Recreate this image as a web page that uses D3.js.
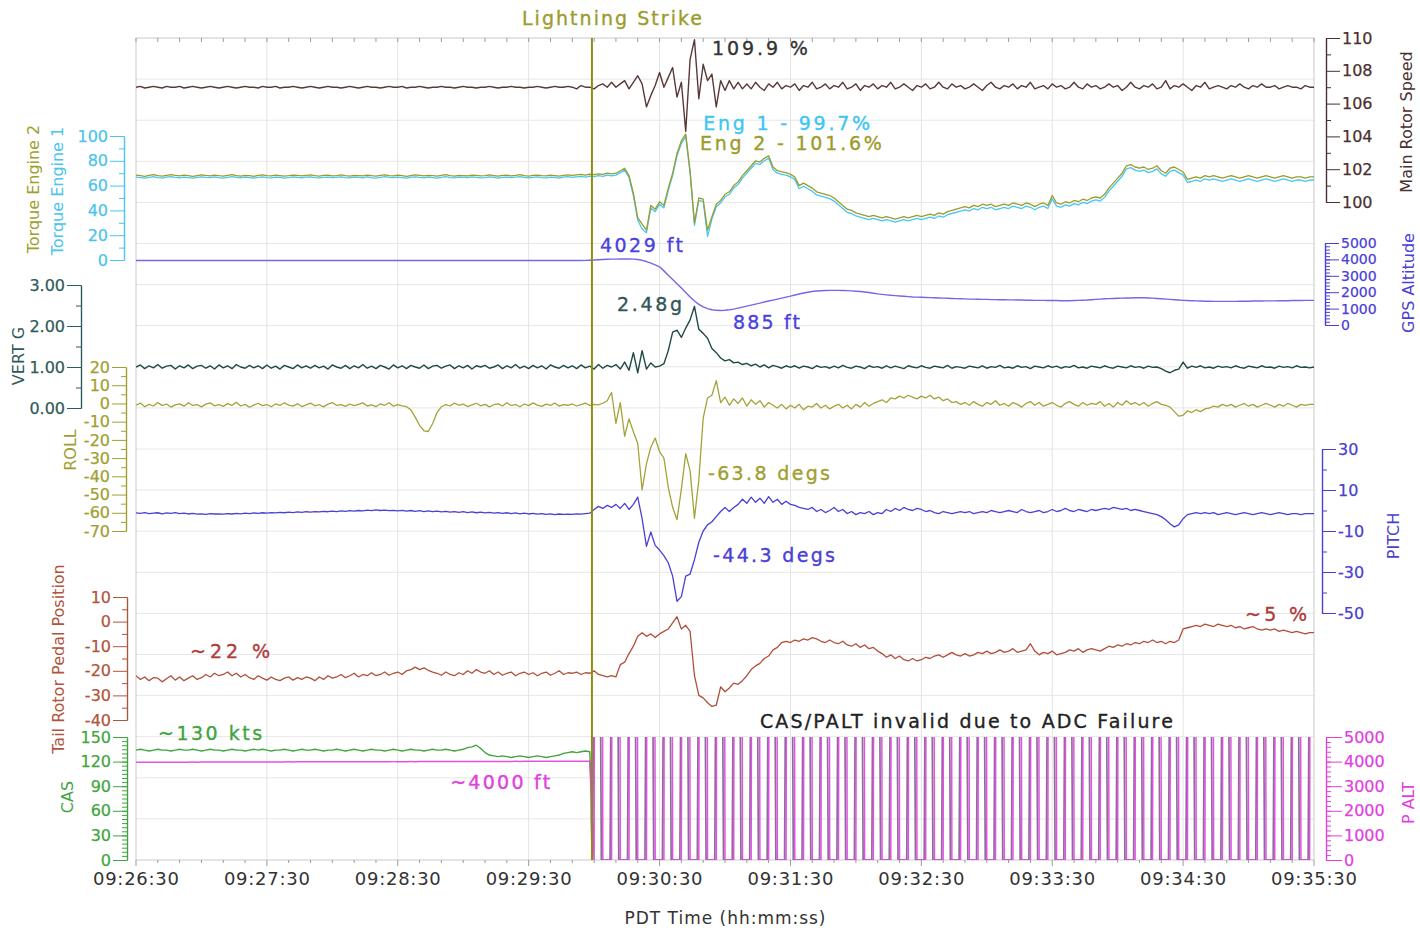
<!DOCTYPE html>
<html>
<head>
<meta charset="utf-8">
<script src="https://cdnjs.cloudflare.com/ajax/libs/d3/7.8.5/d3.min.js"></script>
<style>
  body { margin: 0; background: #fff; }
  svg { display: block; font-family: "DejaVu Sans", Verdana, sans-serif; }
</style>
</head>
<body>
<div id="chart"></div>
<script>
'use strict'
/* global d3 */

// ---- data (one sample every 2 s, starting 09:26:30) ----
const step = 2
const strikeTime = 209
const xTickSeconds = [0, 60, 120, 180, 240, 300, 360, 420, 480, 540]
const xTickLabels = ['09:26:30', '09:27:30', '09:28:30', '09:29:30', '09:30:30',
  '09:31:30', '09:32:30', '09:33:30', '09:34:30', '09:35:30']

const rotorSpeed = [
  107.0,107.05,106.95,107.0,107.05,107.0,106.95,107.05,107.0,107.0,
  107.05,106.95,107.0,107.05,107.0,106.95,107.0,107.05,107.0,106.95,
  107.0,107.05,107.0,106.95,107.0,107.05,107.0,107.0,106.95,107.05,
  107.0,107.0,107.05,106.95,107.0,107.0,107.05,107.0,106.95,107.0,
  107.05,107.0,106.95,107.0,107.05,107.0,107.0,106.95,107.0,107.05,
  107.0,106.95,107.0,107.05,107.0,107.0,106.95,107.0,107.05,107.0,
  107.0,107.05,106.95,107.0,107.0,107.05,107.0,106.95,107.0,107.0,
  107.05,107.0,107.0,106.95,107.0,107.05,107.0,107.0,106.95,107.0,
  107.0,107.05,107.0,106.95,107.0,107.0,107.05,107.0,107.0,106.95,
  107.0,107.0,107.05,107.0,106.95,107.0,107.05,107.0,107.0,107.05,
  107.0,106.9,107.1,107.0,107.0,106.9,107.1,107.2,107.0,107.3,
  107.0,107.2,107.4,106.9,107.3,107.7,107.2,105.8,106.5,107.1,
  107.9,107.0,107.6,108.2,106.4,107.3,104.3,108.7,109.9,106.3,
  108.4,107.4,107.8,105.8,107.4,106.8,107.4,106.9,107.3,106.9,
  107.2,106.9,107.3,107.0,106.8,107.2,107.0,107.3,106.9,107.1,
  107.0,107.2,106.8,107.1,107.0,107.3,106.9,107.0,107.2,106.9,
  107.1,107.0,107.3,106.9,107.0,107.2,106.8,107.1,107.0,107.2,
  106.9,107.1,107.0,107.3,106.9,107.0,107.2,107.0,106.8,107.1,
  107.0,107.2,106.9,107.0,107.3,107.0,106.9,107.2,107.0,107.1,
  106.9,107.0,107.2,107.0,106.8,107.1,107.3,107.0,106.9,107.1,
  107.0,107.2,106.9,107.1,107.0,107.3,106.9,107.0,107.1,106.9,
  107.2,107.0,107.1,106.9,107.0,107.3,107.0,106.9,107.2,107.0,
  107.1,106.9,107.0,107.2,107.0,107.1,106.8,107.0,107.3,107.0,
  106.9,107.1,107.0,107.2,106.9,107.0,107.4,106.9,107.1,107.0,
  107.2,107.0,106.8,107.1,107.0,107.3,106.9,107.0,107.1,107.0,
  106.9,107.1,107.0,107.2,107.0,106.9,107.1,107.0,107.2,107.0,
  107.0,107.1,106.9,107.0,107.1,107.0,107.0,106.9,107.1,107.0,
  107.0]

const torqueEng2 = [
  68.5,68.0,67.5,68.2,68.8,68.0,67.6,68.3,68.9,68.2,
  67.8,68.4,68.0,67.5,68.1,68.7,68.2,67.9,68.5,68.0,
  67.6,68.2,68.8,68.1,67.7,68.3,68.0,67.5,68.2,68.6,
  68.0,67.8,68.4,68.1,67.6,68.0,68.5,68.2,67.8,68.3,
  68.6,68.0,67.7,68.2,68.4,67.9,68.1,68.6,68.0,67.7,
  68.3,68.1,67.8,68.5,68.0,67.6,68.2,68.7,68.1,67.9,
  68.4,68.0,67.5,68.1,68.6,68.2,67.8,68.3,68.0,67.6,
  68.2,68.8,68.0,67.7,68.3,68.1,67.9,68.5,68.2,67.8,
  68.0,68.6,68.1,67.6,68.2,68.4,67.9,68.3,68.8,68.1,
  67.7,68.2,68.5,68.0,67.8,68.4,68.1,67.6,68.3,68.7,
  68.2,68.6,69.0,68.4,69.2,68.8,69.5,69.0,70.0,69.4,
  70.0,72.0,74.0,68.0,54.0,34.0,29.0,24.0,44.0,41.0,
  47.0,44.0,58.0,70.0,86.0,96.0,101.6,72.0,30.0,50.0,
  49.0,24.0,35.0,45.0,48.0,53.0,55.0,60.0,63.0,68.0,
  72.0,76.0,80.0,79.0,82.0,84.0,75.0,72.0,71.0,70.5,
  69.0,67.0,60.0,62.0,60.0,58.0,55.0,54.0,53.0,52.0,
  50.0,47.0,44.0,41.0,40.0,38.0,37.0,36.0,35.0,36.0,
  35.0,34.0,35.0,34.0,33.0,34.0,35.0,34.0,35.0,36.0,
  35.0,36.0,37.0,36.0,38.0,37.0,39.0,40.0,41.0,42.0,
  43.0,42.0,44.0,43.0,45.0,44.0,45.0,43.0,44.0,45.0,
  44.0,46.0,45.0,44.0,46.0,45.0,43.0,45.0,46.0,44.0,
  52.0,46.0,45.0,47.0,46.0,48.0,47.0,49.0,48.0,50.0,
  51.0,50.0,53.0,58.0,62.0,66.0,70.0,76.0,77.0,75.0,
  74.0,75.0,73.0,74.0,76.0,72.0,70.0,74.0,75.0,73.0,
  71.0,65.0,66.0,67.0,66.0,68.0,67.0,68.0,67.0,66.0,
  67.0,68.0,67.0,66.0,67.0,68.0,67.0,66.0,67.0,68.0,
  67.0,66.0,67.0,68.0,67.0,66.0,67.0,67.0,66.0,67.0,
  67.0]

const torqueEng1 = [
  66.8,66.5,66.0,66.7,67.2,66.5,66.1,66.8,67.3,66.6,
  66.3,66.9,66.5,66.0,66.6,67.1,66.7,66.4,67.0,66.5,
  66.1,66.7,67.2,66.6,66.2,66.8,66.5,66.0,66.7,67.0,
  66.5,66.3,66.9,66.6,66.1,66.5,67.0,66.7,66.3,66.8,
  67.0,66.5,66.2,66.7,66.9,66.4,66.6,67.1,66.5,66.2,
  66.8,66.6,66.3,67.0,66.5,66.1,66.7,67.2,66.6,66.4,
  66.9,66.5,66.0,66.6,67.1,66.7,66.3,66.8,66.5,66.1,
  66.7,67.3,66.5,66.2,66.8,66.6,66.4,67.0,66.7,66.3,
  66.5,67.1,66.6,66.1,66.7,66.9,66.4,66.8,67.3,66.6,
  66.2,66.7,67.0,66.5,66.3,66.9,66.6,66.1,66.8,67.2,
  66.7,67.1,67.5,66.9,67.7,67.3,68.0,67.5,68.5,67.9,
  68.5,70.5,72.5,66.5,52.0,32.0,25.0,22.0,42.0,39.0,
  45.0,42.0,56.0,68.0,84.0,94.0,99.7,70.0,28.0,48.0,
  47.0,19.0,33.0,43.0,46.0,51.0,53.0,58.0,61.0,66.0,
  70.0,74.0,78.0,77.0,80.0,82.0,73.0,70.0,69.0,68.5,
  67.0,65.0,57.5,59.5,57.5,55.5,52.5,51.5,50.5,49.5,
  47.5,44.5,41.5,38.5,37.5,35.5,34.5,33.5,32.5,33.5,
  32.5,31.5,32.5,31.5,30.5,31.5,32.5,31.5,32.5,33.5,
  32.5,33.5,34.5,33.5,35.5,34.5,36.5,37.5,38.5,39.5,
  40.5,39.5,41.5,40.5,42.5,41.5,42.5,40.5,41.5,42.5,
  41.5,43.5,42.5,41.5,43.5,42.5,40.5,42.5,43.5,41.5,
  49.5,43.5,42.5,44.5,43.5,45.5,44.5,46.5,45.5,47.5,
  48.5,47.5,50.5,55.5,59.5,63.5,67.5,73.5,74.5,72.5,
  71.5,72.5,70.5,71.5,73.5,69.5,67.5,71.5,72.5,70.5,
  68.5,62.5,63.5,64.5,63.5,65.5,64.5,65.5,64.5,63.5,
  64.5,65.5,64.5,63.5,64.5,65.5,64.5,63.5,64.5,65.5,
  64.5,63.5,64.5,65.5,64.5,63.5,64.5,64.5,63.5,64.5,
  64.5]

const gpsAltitude = [
  3930,3930,3931,3930,3929,3930,3931,3930,3930,3929,
  3930,3931,3930,3930,3929,3930,3930,3931,3930,3930,
  3929,3930,3930,3931,3930,3930,3929,3930,3931,3930,
  3930,3930,3929,3930,3931,3930,3930,3930,3929,3930,
  3931,3930,3930,3929,3930,3930,3931,3930,3930,3929,
  3930,3930,3931,3930,3929,3930,3930,3931,3930,3930,
  3929,3930,3930,3931,3930,3930,3929,3930,3931,3930,
  3930,3929,3930,3930,3931,3930,3930,3929,3930,3930,
  3931,3930,3929,3930,3930,3931,3930,3930,3929,3930,
  3930,3931,3930,3930,3929,3930,3931,3930,3930,3930,
  3930,3930,3935,3940,3950,3960,3975,3990,4005,4015,
  4018,4024,4028,4029,4015,3990,3945,3870,3770,3660,
  3550,3300,3040,2780,2520,2250,1980,1710,1460,1260,
  1100,1000,930,895,885,900,930,970,1030,1090,
  1150,1210,1270,1330,1400,1460,1520,1580,1640,1700,
  1760,1830,1890,1950,2000,2040,2070,2090,2100,2110,
  2110,2110,2105,2095,2080,2060,2040,2010,1980,1940,
  1900,1870,1840,1810,1790,1770,1750,1730,1710,1700,
  1690,1680,1670,1660,1650,1640,1630,1620,1610,1600,
  1590,1580,1580,1570,1560,1560,1550,1550,1540,1540,
  1530,1530,1520,1520,1510,1510,1500,1500,1500,1490,
  1490,1490,1480,1480,1480,1490,1500,1510,1520,1540,
  1560,1580,1600,1610,1620,1630,1640,1650,1650,1660,
  1660,1660,1650,1640,1620,1600,1580,1560,1540,1520,
  1500,1490,1480,1470,1460,1450,1450,1440,1440,1440,
  1440,1440,1440,1450,1450,1450,1460,1460,1460,1470,
  1470,1470,1480,1480,1480,1490,1490,1490,1500,1500,
  1500]

const vertG = [
  1.00,1.05,0.96,1.03,0.98,1.06,0.97,1.02,1.04,0.95,
  1.03,0.98,1.05,0.96,1.02,1.04,0.97,1.03,0.95,1.05,
  0.98,1.03,0.96,1.06,1.00,0.97,1.04,0.98,1.03,0.96,
  1.05,0.97,1.02,0.95,1.04,1.00,0.96,1.05,0.98,1.03,
  0.97,1.04,0.98,1.02,0.95,1.05,1.00,0.97,1.04,0.96,
  1.03,0.98,1.06,0.97,1.02,0.96,1.04,1.00,0.95,1.05,
  0.98,1.03,0.96,1.04,1.00,0.97,1.05,0.96,1.02,1.04,
  0.97,1.02,1.05,0.96,1.03,0.98,1.04,0.95,1.03,1.00,
  1.04,0.97,1.00,1.05,0.96,1.03,0.98,1.06,0.97,1.02,
  0.96,1.04,0.98,1.03,0.95,1.05,1.00,0.97,1.04,0.98,
  1.03,0.96,1.05,0.98,1.02,0.95,1.06,0.97,1.04,1.00,
  1.06,0.95,1.12,0.92,1.35,0.86,1.40,0.95,1.10,1.00,
  1.02,1.08,1.40,1.85,1.90,1.72,1.95,2.15,2.48,1.92,
  1.82,1.70,1.45,1.35,1.22,1.15,1.18,1.10,1.12,1.06,
  1.09,1.03,1.07,1.00,1.05,0.98,1.04,1.01,0.97,1.03,
  0.99,1.03,0.97,1.02,1.00,0.96,1.03,0.99,1.01,0.97,
  1.02,0.98,1.04,0.99,0.97,1.02,1.00,0.96,1.03,0.99,
  1.01,0.97,1.03,0.98,1.02,0.99,0.96,1.03,1.00,0.98,
  1.03,0.99,0.97,1.02,1.00,0.98,1.04,0.97,1.01,0.99,
  0.97,1.02,1.00,0.98,1.03,0.97,1.01,0.99,1.04,0.98,
  1.00,0.97,1.03,0.99,1.01,0.96,1.02,1.00,0.98,1.03,
  0.99,1.02,0.97,1.01,0.99,1.04,0.98,1.00,0.97,1.02,
  1.00,0.98,1.03,0.99,0.97,1.02,1.00,0.98,1.03,0.99,
  1.01,0.97,1.02,0.99,1.00,0.96,0.90,0.86,0.92,0.95,
  1.12,0.97,1.02,0.99,1.03,0.98,1.00,0.97,1.02,0.99,
  1.01,0.98,1.03,0.99,0.97,1.02,1.00,0.98,1.03,0.99,
  1.00,0.97,1.02,0.99,1.01,0.98,1.03,0.99,1.00,0.98,
  1.00]

const roll = [
  -1.0,0.2,-1.8,-0.5,-1.4,0.5,-1.2,-0.3,-2.0,-0.8,
  -0.2,-1.5,0.4,-1.1,-0.6,-1.9,-0.4,0.3,-1.3,-0.7,
  -1.6,-0.1,-1.0,0.6,-1.4,-0.5,-2.1,-0.9,0.1,-1.2,
  -0.6,-1.8,-0.3,-1.1,0.4,-0.9,-1.5,-0.2,-1.7,-0.8,
  0.2,-1.3,-0.7,-1.9,-0.4,0.5,-1.1,-0.6,-1.6,-0.3,
  -1.2,-0.5,0.3,-1.4,-0.8,-1.8,-0.2,-1.0,0.4,-1.5,
  -0.7,-1.3,-1.8,-3.5,-7.5,-12.0,-15.0,-15.4,-11.0,-5.0,
  -1.8,-0.6,-1.4,0.2,-1.0,-0.4,-1.7,-0.8,0.1,-1.3,
  -0.5,-1.9,-0.7,-0.2,-1.4,0.4,-1.1,-0.6,-1.8,-0.3,
  -1.2,0.3,-0.9,-1.6,-0.4,-1.1,0.2,-1.5,-0.7,-1.0,
  -0.3,-1.4,-0.6,0.2,-1.1,-0.5,-0.8,0.1,1.5,6.0,
  -11.0,0.5,-18.0,-8.5,-15.5,-22.0,-47.5,-33.0,-24.0,-19.0,
  -26.5,-30.0,-46.0,-57.0,-63.8,-47.0,-27.5,-37.0,-63.0,-42.0,
  -8.0,3.0,4.5,12.5,0.5,3.5,-1.0,2.5,0.0,3.0,
  -1.5,2.0,-0.5,1.5,-2.0,0.5,-1.0,-2.5,-0.5,-3.0,
  -1.0,-2.5,-0.5,-3.5,-1.5,-2.0,0.0,-2.5,-1.0,-3.0,
  -1.5,-0.5,-2.5,-1.0,-3.0,-0.5,-2.0,0.5,-1.5,0.0,
  1.0,2.0,0.5,3.0,2.5,4.0,3.0,4.5,3.5,2.5,
  4.0,3.0,4.5,2.5,3.5,1.5,2.5,0.5,1.0,-0.5,
  0.5,-1.0,1.0,-0.5,-1.5,0.5,-0.5,1.5,-1.0,0.0,
  -1.5,0.5,-0.5,-2.0,0.0,1.0,-1.0,0.5,-1.5,-0.5,
  0.5,-1.0,-2.0,0.0,1.0,-0.5,-1.5,0.5,-1.0,0.0,
  -0.5,1.0,-1.5,0.0,-2.0,0.5,-1.0,1.5,-0.5,0.5,
  -1.0,0.5,-1.5,0.0,1.0,-0.5,-1.0,-2.0,-4.5,-7.0,
  -6.5,-4.0,-5.0,-3.5,-4.5,-3.0,-2.5,-1.5,-2.0,-0.5,
  -1.5,-0.5,-2.0,-1.0,0.0,-1.5,-0.5,-2.0,-1.0,0.0,
  -1.0,-2.0,-0.5,-1.5,0.0,-1.0,-2.0,-0.5,-1.0,-0.5,
  -0.5]

const pitch = [
  -1.2,-1.4,-1.0,-1.5,-1.3,-1.1,-1.6,-1.2,-1.4,-1.0,
  -1.5,-1.3,-1.7,-1.4,-1.8,-1.6,-1.9,-1.5,-1.7,-1.6,
  -1.8,-1.5,-1.7,-1.4,-1.6,-1.3,-1.5,-1.2,-1.4,-1.1,
  -1.3,-1.0,-1.2,-0.9,-1.1,-0.8,-1.0,-0.7,-0.9,-0.6,
  -0.8,-0.5,-0.7,-0.4,-0.6,-0.3,-0.5,-0.2,-0.4,-0.1,
  -0.3,0.0,-0.2,0.2,-0.1,0.3,0.0,0.2,-0.1,0.1,
  -0.2,0.1,-0.3,0.0,-0.4,-0.1,-0.5,-0.2,-0.6,-0.3,
  -0.7,-0.4,-0.8,-0.5,-0.9,-0.6,-1.0,-0.7,-1.1,-0.8,
  -1.2,-0.9,-1.3,-1.0,-1.4,-1.1,-1.5,-1.2,-1.6,-1.3,
  -1.7,-1.4,-1.8,-1.5,-1.9,-1.6,-2.0,-1.7,-1.9,-1.8,
  -1.9,-1.6,-1.8,-1.5,-1.3,0.5,2.0,1.0,2.5,1.5,
  3.0,1.0,3.5,0.5,3.0,6.5,-4.0,-17.5,-10.5,-17.0,
  -19.3,-22.0,-25.5,-32.0,-44.3,-42.0,-32.0,-31.0,-24.0,-15.5,
  -10.0,-7.0,-5.5,-3.0,-0.5,1.5,-0.5,1.5,3.0,5.5,
  3.5,6.5,4.0,6.0,3.5,6.8,4.0,5.5,3.0,4.5,
  3.0,2.5,1.5,1.0,0.5,1.5,-0.5,0.5,-1.0,0.0,
  1.5,-0.5,0.5,-1.5,-0.5,-2.0,-1.0,-1.5,-0.5,-2.0,
  -1.0,-1.5,0.5,-0.5,1.0,0.0,1.5,0.5,0.0,1.0,
  0.5,-0.5,0.0,-1.0,-1.5,-0.5,-1.0,-1.5,-1.0,-0.5,
  -1.0,-0.5,-1.5,-1.0,-0.5,-1.0,0.0,-0.5,-1.0,-0.5,
  0.0,-0.5,-1.0,0.5,-0.5,-1.0,-0.5,0.0,-1.0,-0.5,
  0.5,-0.5,0.0,1.0,0.0,-0.5,0.5,0.0,-0.5,0.5,
  0.0,0.5,1.0,0.5,1.5,1.0,0.5,1.0,0.0,0.5,
  0.0,-0.5,-1.0,-1.5,-2.0,-3.0,-4.5,-6.5,-8.0,-7.0,
  -4.0,-2.0,-1.5,-1.0,-1.5,-1.0,-1.5,-1.0,-2.0,-1.5,
  -1.0,-1.5,-2.0,-1.5,-1.0,-1.5,-2.0,-1.5,-1.0,-1.5,
  -2.0,-1.5,-1.0,-1.5,-2.0,-1.5,-1.5,-2.0,-1.5,-1.5,
  -1.5]

const tailRotorPedal = [
  -22.0,-23.5,-22.5,-24.0,-22.8,-23.0,-24.5,-23.2,-22.0,-23.8,
  -22.5,-24.0,-23.0,-22.0,-23.5,-22.8,-21.5,-22.5,-21.0,-22.0,
  -21.5,-20.5,-22.0,-21.0,-22.5,-21.5,-22.8,-23.5,-22.0,-23.0,
  -23.8,-22.5,-23.5,-24.0,-23.0,-22.5,-23.8,-22.8,-23.5,-22.5,
  -23.0,-24.0,-22.5,-23.5,-22.0,-23.0,-22.5,-21.5,-22.8,-22.0,
  -21.0,-22.5,-21.5,-22.0,-20.8,-22.0,-21.5,-20.5,-21.8,-21.0,
  -20.5,-21.5,-20.0,-19.5,-18.5,-19.5,-18.8,-19.8,-20.5,-21.0,
  -21.8,-20.5,-21.5,-22.0,-20.8,-21.5,-20.0,-21.0,-19.5,-20.5,
  -21.0,-20.0,-21.5,-20.5,-21.8,-21.0,-20.5,-22.0,-21.0,-20.5,
  -21.5,-20.8,-22.0,-21.0,-20.5,-21.8,-21.0,-20.0,-21.5,-20.8,
  -21.0,-20.5,-21.5,-20.8,-21.0,-20.0,-21.5,-22.0,-22.5,-22.0,
  -22.5,-17.5,-16.5,-13.0,-10.0,-6.0,-4.5,-6.0,-5.0,-6.5,
  -5.0,-4.0,-3.0,-0.5,2.0,-3.0,-1.5,-4.0,-22.0,-30.0,
  -31.0,-33.0,-34.5,-34.0,-26.5,-28.5,-27.0,-25.0,-25.5,-24.0,
  -22.0,-19.5,-18.0,-17.0,-15.0,-14.0,-11.5,-10.5,-8.5,-8.0,
  -8.5,-7.5,-8.0,-7.0,-7.5,-6.5,-7.0,-8.0,-8.5,-7.5,
  -8.5,-9.0,-8.0,-9.5,-10.0,-9.0,-10.5,-9.5,-11.0,-10.5,
  -12.0,-13.0,-14.5,-13.5,-15.0,-14.0,-15.5,-16.0,-15.0,-16.0,
  -15.5,-14.5,-15.0,-14.0,-13.5,-14.5,-13.5,-12.5,-13.5,-14.0,
  -13.0,-14.0,-13.5,-12.5,-13.0,-12.0,-13.0,-12.5,-11.5,-12.5,
  -12.0,-11.0,-12.5,-12.0,-11.5,-9.0,-12.0,-13.5,-12.5,-13.0,
  -12.0,-13.5,-13.0,-12.5,-11.5,-12.0,-11.0,-12.5,-11.5,-11.0,
  -11.5,-12.0,-11.0,-10.0,-10.5,-9.5,-10.0,-9.0,-9.5,-8.5,
  -9.0,-8.0,-8.5,-7.5,-8.5,-8.0,-9.0,-8.0,-8.5,-7.5,
  -3.0,-2.5,-2.0,-1.5,-2.0,-1.0,-1.5,-2.0,-1.0,-1.5,
  -2.0,-1.5,-2.5,-2.0,-3.0,-2.5,-2.0,-3.0,-3.5,-3.0,
  -3.5,-3.0,-4.0,-3.5,-4.0,-4.5,-4.0,-4.5,-5.0,-4.5,
  -4.5]

// after the strike the ADC reports invalid (off-scale) readings
const cas = [
  134,135,134,133,134,135,134,134,133,134,
  135,134,134,135,134,133,134,135,134,134,
  133,134,135,134,134,133,134,135,134,135,
  134,133,134,134,135,134,133,134,135,134,
  134,135,134,133,134,134,135,134,133,134,
  135,134,133,134,135,134,134,133,134,135,
  134,133,134,135,134,134,133,134,135,134,
  134,135,134,133,134,135,137,138,140,136,
  131,128,127,126,127,126,125,126,127,126,
  125,126,127,126,125,126,127,128,130,131,
  132,131,132,133,132,0,999,0,0,0,
  999,0,0,0,999,0,0,0,999,0,
  0,0,999,0,0,0,999,0,0,0,
  999,0,0,0,999,0,0,0,999,0,
  0,0,999,0,0,0,999,0,0,0,
  999,0,0,0,999,0,0,0,999,0,
  0,0,999,0,0,0,999,0,0,0,
  999,0,0,0,999,0,0,0,999,0,
  0,0,999,0,0,0,999,0,0,0,
  999,0,0,0,999,0,0,0,999,0,
  0,0,999,0,0,0,999,0,0,0,
  999,0,0,0,999,0,0,0,999,0,
  0,0,999,0,0,0,999,0,0,0,
  999,0,0,0,999,0,0,0,999,0,
  0,0,999,0,0,0,999,0,0,0,
  999,0,0,0,999,0,0,0,999,0,
  0,0,999,0,0,0,999,0,0,0,
  999]

const pressureAlt = [
  3972,3973,3972,3974,3973,3975,3974,3976,3975,3977,
  3976,3978,3977,3979,3978,3980,3979,3981,3980,3982,
  3981,3983,3982,3984,3983,3985,3984,3986,3985,3987,
  3986,3987,3986,3988,3987,3989,3988,3990,3989,3991,
  3990,3991,3990,3992,3991,3993,3992,3994,3993,3995,
  3994,3995,3994,3996,3995,3997,3996,3998,3997,3999,
  3998,3999,3998,4000,3999,4001,4000,4002,4001,4003,
  4002,4003,4002,4004,4003,4005,4004,4006,4005,4007,
  4006,4007,4006,4008,4007,4009,4008,4010,4009,4011,
  4010,4011,4010,4012,4011,4013,4012,4014,4013,4015,
  4014,4015,4014,4016,4015,0,99999,0,0,0,
  99999,0,0,0,99999,0,0,0,99999,0,
  0,0,99999,0,0,0,99999,0,0,0,
  99999,0,0,0,99999,0,0,0,99999,0,
  0,0,99999,0,0,0,99999,0,0,0,
  99999,0,0,0,99999,0,0,0,99999,0,
  0,0,99999,0,0,0,99999,0,0,0,
  99999,0,0,0,99999,0,0,0,99999,0,
  0,0,99999,0,0,0,99999,0,0,0,
  99999,0,0,0,99999,0,0,0,99999,0,
  0,0,99999,0,0,0,99999,0,0,0,
  99999,0,0,0,99999,0,0,0,99999,0,
  0,0,99999,0,0,0,99999,0,0,0,
  99999,0,0,0,99999,0,0,0,99999,0,
  0,0,99999,0,0,0,99999,0,0,0,
  99999,0,0,0,99999,0,0,0,99999,0,
  0,0,99999,0,0,0,99999,0,0,0,
  99999]

// ---- canvas ----
const width = 1420, height = 931
const plot = { left: 136, right: 1314, top: 38, bottom: 860 }
const fontStack = '"DejaVu Sans", Verdana, sans-serif'

const svg = d3.select('#chart').append('svg')
  .attr('width', width)
  .attr('height', height)

const x = d3.scaleLinear().domain([0, 540]).range([plot.left, plot.right])

// each trace has its own vertical band
const sc = {
  rotor: d3.scaleLinear().domain([100, 110]).range([202, 38]),
  torque: d3.scaleLinear().domain([0, 100]).range([260, 136]),
  gps: d3.scaleLinear().domain([0, 5000]).range([325, 243]),
  vertg: d3.scaleLinear().domain([0, 3]).range([408, 285]),
  roll: d3.scaleLinear().domain([-70, 20]).range([531, 367]),
  pitch: d3.scaleLinear().domain([-50, 30]).range([613, 449]),
  tail: d3.scaleLinear().domain([-40, 10]).range([720, 597]),
  cas: d3.scaleLinear().domain([0, 150]).range([860, 737]),
  palt: d3.scaleLinear().domain([0, 5000]).range([860, 737])
}

const defs = svg.append('defs')
defs.append('clipPath').attr('id', 'clip-plot').append('rect')
  .attr('x', plot.left).attr('y', plot.top)
  .attr('width', plot.right - plot.left).attr('height', plot.bottom - plot.top)
const adcTop = sc.cas.range()[1], adcH = sc.cas.range()[0] - sc.cas.range()[1]
defs.append('clipPath').attr('id', 'clip-adc').append('rect')
  .attr('x', plot.left).attr('y', adcTop)
  .attr('width', plot.right - plot.left).attr('height', adcH)
defs.append('clipPath').attr('id', 'clip-adc-pre').append('rect')
  .attr('x', plot.left).attr('y', adcTop)
  .attr('width', x(strikeTime) - plot.left).attr('height', adcH)
defs.append('clipPath').attr('id', 'clip-adc-post').append('rect')
  .attr('x', x(strikeTime)).attr('y', adcTop)
  .attr('width', plot.right - x(strikeTime)).attr('height', adcH)

// grid
const grid = svg.append('g')
const rowY = d3.scaleLinear().domain([0, 20]).range([plot.top, plot.bottom])
grid.selectAll('line.h').data(d3.range(1, 20)).enter().append('line')
  .attr('x1', plot.left).attr('x2', plot.right)
  .attr('y1', d => rowY(d)).attr('y2', d => rowY(d))
  .attr('stroke', '#e7e7e7')
grid.selectAll('line.v').data(xTickSeconds.slice(1, -1)).enter().append('line')
  .attr('x1', d => x(d)).attr('x2', d => x(d))
  .attr('y1', plot.top).attr('y2', plot.bottom)
  .attr('stroke', '#e3e3e3')
svg.append('rect')
  .attr('x', plot.left).attr('y', plot.top)
  .attr('width', plot.right - plot.left).attr('height', plot.bottom - plot.top)
  .attr('fill', 'none').attr('stroke', '#c9c9c9')

// small time ticks along top and bottom edge
const tenSec = d3.range(0, 541, 10)
svg.append('g').selectAll('line').data(tenSec).enter().append('line')
  .attr('x1', d => x(d)).attr('x2', d => x(d))
  .attr('y1', plot.top).attr('y2', plot.top + 4)
  .attr('stroke', '#9a9a9a')
svg.append('g').selectAll('line').data(tenSec).enter().append('line')
  .attr('x1', d => x(d)).attr('x2', d => x(d))
  .attr('y1', plot.bottom).attr('y2', d => d % 60 === 0 ? plot.bottom + 6 : plot.bottom + 3)
  .attr('stroke', '#9a9a9a')

// x labels
svg.append('g').selectAll('text').data(xTickSeconds).enter().append('text')
  .attr('x', d => x(d)).attr('y', 878)
  .attr('text-anchor', 'middle').attr('dominant-baseline', 'central')
  .attr('font-size', 18).attr('fill', '#333')
  .attr('textLength', 86).attr('lengthAdjust', 'spacing')
  .text((d, i) => xTickLabels[i])
svg.append('text')
  .attr('x', x(270)).attr('y', 918)
  .attr('text-anchor', 'middle').attr('dominant-baseline', 'central')
  .attr('font-size', 17).attr('fill', '#333')
  .attr('textLength', 201).attr('lengthAdjust', 'spacing')
  .text('PDT Time (hh:mm:ss)')

// traces
let trace = (values, scale, color, w, clip, shift, opacity) => {
  const line = d3.line()
    .x((d, i) => x(i * step))
    .y(d => scale(d))
  svg.append('path')
    .datum(values)
    .attr('clip-path', clip || 'url(#clip-plot)')
    .attr('transform', shift ? `translate(${shift},0)` : null)
    .attr('fill', 'none')
    .attr('stroke', color)
    .attr('stroke-width', w)
    .attr('stroke-opacity', opacity || 1)
    .attr('stroke-linejoin', 'round')
    .attr('d', line)
}

trace(gpsAltitude, sc.gps, '#7767e6', 1.4)
trace(rotorSpeed, sc.rotor, '#5a3838', 1.4)
trace(torqueEng1, sc.torque, '#45c8f2', 1.3)
trace(torqueEng2, sc.torque, '#9c9c2a', 1.3)
trace(vertG, sc.vertg, '#1f4a46', 1.4)
trace(roll, sc.roll, '#a3a33a', 1.3)
trace(pitch, sc.pitch, '#4a40d4', 1.3)
trace(tailRotorPedal, sc.tail, '#b0503c', 1.3)
trace(cas, sc.cas, '#3fa53f', 1.4, 'url(#clip-adc-pre)')
trace(cas, sc.cas, '#8c6f98', 1.7, 'url(#clip-adc-post)', -1.5)
trace(pressureAlt, sc.palt, '#e040e0', 1.5, 'url(#clip-adc)', 0, 0.9)

// lightning strike marker
svg.append('line')
  .attr('x1', x(strikeTime)).attr('x2', x(strikeTime))
  .attr('y1', plot.top).attr('y2', plot.bottom)
  .attr('stroke', '#8d8d14').attr('stroke-width', 2)

// ---- axes ----
const axes = [
  { key: 'rotor', side: 'right', at: 1326, color: '#4a3030', major: d3.range(100, 111, 2), minor: d3.range(101, 110, 2), fs: 16 },
  { key: 'torque', side: 'left', at: 124, color: '#4cc4ee', major: d3.range(0, 101, 20), minor: d3.range(10, 100, 20), fs: 16 },
  { key: 'gps', side: 'right', at: 1325, color: '#4a40d8', major: d3.range(0, 5001, 1000), minor: d3.range(0, 5001, 200), fs: 14 },
  { key: 'vertg', side: 'left', at: 81, color: '#2f5a5a', major: [0, 1, 2, 3], minor: [0.5, 1.5, 2.5], fs: 16, fmt: d => d.toFixed(2) },
  { key: 'roll', side: 'left', at: 126, color: '#a0a030', major: d3.range(-70, 21, 10), minor: d3.range(-65, 20, 10), fs: 16 },
  { key: 'pitch', side: 'right', at: 1322, color: '#4a40d0', major: [30, 10, -10, -30, -50], minor: [20, 0, -20, -40], fs: 16 },
  { key: 'tail', side: 'left', at: 127, color: '#b0553c', major: d3.range(-40, 11, 10), minor: d3.range(-35, 10, 10), fs: 16 },
  { key: 'cas', side: 'left', at: 127, color: '#3fa53f', major: d3.range(0, 151, 30), minor: d3.range(0, 151, 5), fs: 16 },
  { key: 'palt', side: 'right', at: 1326, color: '#e040e0', major: d3.range(0, 5001, 1000), minor: d3.range(0, 5001, 200), fs: 16 }
]

axes.forEach(a => {
  const make = a.side === 'left' ? d3.axisLeft : d3.axisRight
  const gMinor = svg.append('g').attr('transform', `translate(${a.at},0)`).style('color', a.color)
  gMinor.call(make(sc[a.key]).tickValues(a.minor).tickSize(5).tickSizeOuter(0).tickFormat(''))
  const g = svg.append('g').attr('transform', `translate(${a.at},0)`).style('color', a.color)
  g.call(make(sc[a.key]).tickValues(a.major).tickSize(a.key === 'palt' ? 16 : 14).tickSizeOuter(0)
    .tickPadding(2).tickFormat(a.fmt || (d => String(d))))
  g.attr('font-family', null).attr('font-size', null)
  g.selectAll('text').attr('font-size', a.fs).style('font-family', fontStack)
    .attr('stroke', 'currentColor').attr('stroke-width', 0.25)
  svg.selectAll('path.domain').attr('stroke-width', 1.2)
})

// axis titles
const titles = [
  { text: 'Torque Engine 2', cx: 33, cy: 189, color: '#a0a030' },
  { text: 'Torque Engine 1', cx: 57, cy: 191, color: '#4cc4ee' },
  { text: 'VERT G', cx: 18, cy: 356, color: '#2f5a5a' },
  { text: 'ROLL', cx: 70, cy: 450, color: '#a0a030' },
  { text: 'Tail Rotor Pedal Position', cx: 58, cy: 659, color: '#b0553c' },
  { text: 'CAS', cx: 67, cy: 797, color: '#3fa53f' },
  { text: 'Main Rotor Speed', cx: 1406, cy: 122, color: '#4a3030' },
  { text: 'GPS Altitude', cx: 1408, cy: 283, color: '#4a40d8' },
  { text: 'PITCH', cx: 1393, cy: 536, color: '#4a40d0' },
  { text: 'P ALT', cx: 1408, cy: 803, color: '#e040e0' }
]
svg.append('g').selectAll('text').data(titles).enter().append('text')
  .attr('transform', d => `translate(${d.cx},${d.cy}) rotate(-90)`)
  .attr('text-anchor', 'middle').attr('dominant-baseline', 'central')
  .attr('font-size', 16).attr('fill', d => d.color)
  .text(d => d.text)

// annotations, placed in data coordinates
const notes = [
  { text: '109.9 %', t: 264, v: 109.4, s: 'rotor', color: '#333', w: 96 },
  { text: 'Eng 1 - 99.7%', t: 260, v: 110.5, s: 'torque', color: '#3cc6f0', w: 167 },
  { text: 'Eng 2 - 101.6%', t: 258.5, v: 94.4, s: 'torque', color: '#9c9c2a', w: 182 },
  { text: '4029 ft', t: 212.7, v: 4878, s: 'gps', color: '#4b3fe0', w: 83 },
  { text: '2.48g', t: 220.5, v: 2.54, s: 'vertg', color: '#2f5656', w: 65 },
  { text: '885 ft', t: 273.7, v: 183, s: 'gps', color: '#4b3fe0', w: 67 },
  { text: '-63.8 degs', t: 262.2, v: -38.2, s: 'roll', color: '#a0a030', w: 122 },
  { text: '-44.3 degs', t: 264.5, v: -21.7, s: 'pitch', color: '#4a40d8', w: 122 },
  { text: '~22 %', t: 24.8, v: -12.0, s: 'tail', color: '#b03a3a', w: 80 },
  { text: '~5 %', t: 508.4, v: 3.1, s: 'tail', color: '#b03a3a', w: 62 },
  { text: 'CAS/PALT invalid due to ADC Failure', t: 286, v: 169.5, s: 'cas', color: '#222', w: 413 },
  { text: '~130 kts', t: 10.1, v: 154.9, s: 'cas', color: '#3fa53f', w: 104 },
  { text: '~4000 ft', t: 144, v: 3171, s: 'palt', color: '#e040e0', w: 100 }
]
svg.append('g').selectAll('text').data(notes).enter().append('text')
  .attr('x', d => x(d.t)).attr('y', d => sc[d.s](d.v))
  .attr('dominant-baseline', 'central')
  .attr('font-size', 19).attr('fill', d => d.color)
  .attr('stroke', d => d.color).attr('stroke-width', 0.35)
  .attr('textLength', d => d.w).attr('lengthAdjust', 'spacing')
  .text(d => d.text)

svg.append('text')
  .attr('x', x(218.2)).attr('y', 18)
  .attr('text-anchor', 'middle').attr('dominant-baseline', 'central')
  .attr('font-size', 19).attr('fill', '#9c9c2c')
  .attr('stroke', '#9c9c2c').attr('stroke-width', 0.35)
  .attr('textLength', 180).attr('lengthAdjust', 'spacing')
  .text('Lightning Strike')
</script>
</body>
</html>
